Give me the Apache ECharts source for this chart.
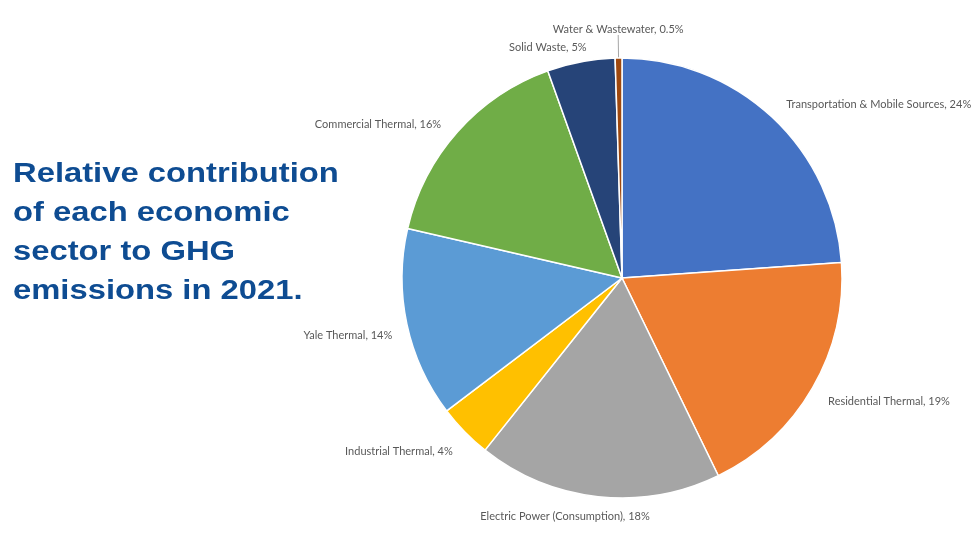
<!DOCTYPE html>
<html>
<head>
<meta charset="utf-8">
<script src="https://cdn.jsdelivr.net/npm/echarts@6/dist/echarts.min.js"></script>
<style>html,body{margin:0;padding:0;background:#fff;}#chart{width:975px;height:547px;}</style>
</head>
<body>
<div id="chart"></div>
<script>
var sectors = ['Transportation & Mobile Sources', 'Residential Thermal', 'Electric Power (Consumption)', 'Industrial Thermal', 'Yale Thermal', 'Commercial Thermal', 'Solid Waste', 'Water & Wastewater'];
var shares = [24, 19, 18, 4, 14, 16, 5, 0.5];
var colors = ['#4472C4', '#ED7D31', '#A5A5A5', '#FFC000', '#5B9BD5', '#70AD47', '#264478', '#9E480E'];
var titleLines = ['Relative contribution', 'of each economic', 'sector to GHG', 'emissions in 2021.'];

// label nudges (style only), keyed by sector index
var labelNudge = { 0: [0, 1], 1: [-2, 4], 2: [-31, 2], 3: [3, 7], 4: [5, 8], 5: [-1, 5], 6: [11, 3] };

var data = sectors.map(function (n, i) {
  var item = { name: n, value: shares[i], itemStyle: { color: colors[i] } };
  if (n === 'Water & Wastewater') {
    item.labelLine = { show: true, length: 22, length2: 0, lineStyle: { color: '#A6A6A6', width: 1 } };
  }
  return item;
});

var chart = echarts.init(document.getElementById('chart'), null, { renderer: 'canvas' });
chart.setOption({
  animation: false,
  backgroundColor: '#ffffff',
  graphic: [{
    type: 'text',
    left: 13,
    top: 155,
    scaleX: 1.17,
    originX: 0,
    style: {
      text: titleLines.join('\n'),
      font: 'bold 28px "Liberation Sans", Arial, sans-serif',
      lineHeight: 39,
      fill: '#0E4C92'
    }
  }],
  series: [{
    type: 'pie',
    center: [622, 278],
    radius: 220,
    startAngle: 90,
    clockwise: true,
    avoidLabelOverlap: false,
    itemStyle: { borderColor: '#ffffff', borderWidth: 1.5 },
    label: {
      show: true,
      position: 'outside',
      formatter: '{b}, {c}%',
      fontFamily: 'Lato',
      fontSize: 11,
      color: '#595959',
      distanceToLabelLine: 2,
      overflow: 'none'
    },
    labelLine: { show: false, length: 18, length2: 0 },
    labelLayout: function (p) {
      var pts = p.labelLinePoints;
      var n = sectors[p.dataIndex];
      if (!pts) return {};
      if (n === 'Water & Wastewater') {
        return { x: pts[2][0], y: pts[2][1] - 1, align: 'center', verticalAlign: 'bottom' };
      }
      var d = labelNudge[p.dataIndex] || [0, 0];
      if (n === 'Electric Power (Consumption)') {
        return { x: pts[2][0] + d[0], y: pts[2][1] + d[1], align: 'center', verticalAlign: 'middle' };
      }
      return { dx: d[0], dy: d[1] };
    },
    data: data
  }]
});
</script>
</body>
</html>
